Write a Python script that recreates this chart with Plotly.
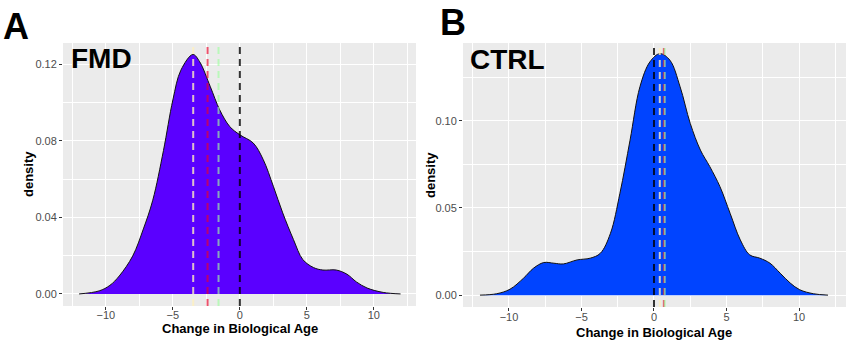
import plotly.graph_objects as go

# Density curves of the change in biological age (years)
fmd_x = [-12, -10.5, -9.7, -9, -8, -7.2, -6.5, -5.7, -5, -4.4, -3.5, -3, -2.2, -1.5,
         -0.75, 0, 1, 1.75, 2.5, 3.2, 4, 4.7, 5.5, 6.2, 7.2, 8, 8.7, 9.5, 10.7, 12]
fmd_density = [0.0, 0.0016, 0.0045, 0.0094, 0.0198, 0.034, 0.049, 0.075, 0.1014, 0.117,
               0.1252, 0.1214, 0.1083, 0.0962, 0.0875, 0.0832, 0.0789, 0.0702, 0.0563,
               0.0424, 0.0285, 0.018, 0.0138, 0.0125, 0.0125, 0.0103, 0.0063, 0.0031,
               0.0008, 0.0]

ctrl_x = [-12, -10.85, -9.93, -9.0, -8.3, -7.6, -6.9, -6.25, -5.3, -4.4, -3.7, -3.0,
          -2.35, -1.65, -0.97, -0.28, 0.41, 1.1, 1.8, 2.5, 3.2, 3.85, 4.55, 5.25, 5.95,
          6.6, 7.3, 8.0, 8.7, 9.4, 10.05, 11.0, 12]
ctrl_density = [0, 0.0008, 0.0034, 0.0097, 0.0155, 0.0187, 0.0183, 0.0179, 0.0202, 0.0212,
                0.024, 0.0355, 0.0584, 0.0889, 0.1195, 0.1338, 0.1385, 0.1347, 0.1195,
                0.0985, 0.0832, 0.0737, 0.0622, 0.0469, 0.0317, 0.0231, 0.0212, 0.0183,
                0.0126, 0.0069, 0.0031, 0.0008, 0]

# Reference lines (yellow, red, green, black) for each group
line_names = ["yellow", "red", "green", "black"]
fmd_lines = [-3.48, -2.41, -1.59, 0.0]
ctrl_lines = [0.4, 0.68, 0.74, 0.0]

x_ticks = [-10, -5, 0, 5, 10]
fmd_y_ticks = [0.0, 0.04, 0.08, 0.12]
ctrl_y_ticks = [0.0, 0.05, 0.10]

line_colors = {
    "yellow": "rgba(255,240,190,0.8)",
    "red": "rgba(235,0,40,0.65)",
    "green": "rgba(160,255,160,0.65)",
    "black": "rgba(0,0,0,0.8)",
}

FONT = "Liberation Sans, Arial, sans-serif"
PANEL_BG = "#EBEBEB"

fig = go.Figure()

fig.add_trace(go.Scatter(
    x=fmd_x, y=fmd_density, xaxis="x", yaxis="y",
    mode="lines", line=dict(color="#111111", width=1, shape="spline", smoothing=1.0),
    fill="tozeroy", fillcolor="#5A00FF", showlegend=False, hoverinfo="skip"))

fig.add_trace(go.Scatter(
    x=ctrl_x, y=ctrl_density, xaxis="x2", yaxis="y2",
    mode="lines", line=dict(color="#111111", width=1, shape="spline", smoothing=1.0),
    fill="tozeroy", fillcolor="#0044FF", showlegend=False, hoverinfo="skip"))

shapes = []
for xref, yref, values in (("x", "y domain", fmd_lines), ("x2", "y2 domain", ctrl_lines)):
    for name, xv in zip(line_names, values):
        shapes.append(dict(
            type="line", xref=xref, yref=yref, x0=xv, x1=xv, y0=0, y1=1,
            line=dict(color=line_colors[name], width=2, dash="7px,5px"),
            layer="above"))

axis_common = dict(
    showgrid=True, gridcolor="white", gridwidth=1.2, zeroline=False,
    ticks="outside", ticklen=3, tickwidth=1, tickcolor="#333333",
    tickfont=dict(family=FONT, size=11, color="#4D4D4D"),
    showline=False, fixedrange=True,
)

fig.update_layout(
    width=864, height=345,
    margin=dict(l=0, r=0, t=0, b=0),
    paper_bgcolor="white", plot_bgcolor=PANEL_BG,
    shapes=shapes,
    xaxis=dict(domain=[63 / 864, 416 / 864], range=[-13.2, 13.15], tickvals=x_ticks,
               minor=dict(showgrid=True, gridcolor="white", gridwidth=0.6, dtick=2.5,
                          tick0=-12.5, ticks=""),
               ticklabelstandoff=-4, anchor="y", **axis_common),
    yaxis=dict(domain=[1 - 306 / 345, 1 - 43 / 345], range=[-0.0063, 0.1312],
               tickvals=fmd_y_ticks, tickformat=".2f",
               minor=dict(showgrid=True, gridcolor="white", gridwidth=0.6, dtick=0.02,
                          tick0=0.0, ticks=""),
               anchor="x", **axis_common),
    xaxis2=dict(domain=[463 / 864, 846 / 864], range=[-13.17, 13.24], tickvals=x_ticks,
                minor=dict(showgrid=True, gridcolor="white", gridwidth=0.6, dtick=2.5,
                           tick0=-12.5, ticks=""),
                ticklabelstandoff=-3, anchor="y2", **axis_common),
    yaxis2=dict(domain=[1 - 307 / 345, 1 - 43 / 345], range=[-0.0068, 0.1446],
                tickvals=ctrl_y_ticks, tickformat=".2f",
                minor=dict(showgrid=True, gridcolor="white", gridwidth=0.6, dtick=0.025,
                           tick0=0.0, ticks=""),
                anchor="x2", **axis_common),
)

def label(text, x, y, size, xanchor="center", yanchor="middle", angle=0):
    fig.add_annotation(
        text=text, x=x / 864, y=1 - y / 345, xref="paper", yref="paper",
        xanchor=xanchor, yanchor=yanchor, showarrow=False, textangle=angle,
        font=dict(family=FONT, size=size, color="black", weight="bold"))

# Panel letters and group names
label("A", 1, 26, 36, xanchor="left")
label("B", 438, 23, 36, xanchor="left")
label("FMD", 69, 58, 28, xanchor="left")
label("CTRL", 468, 59, 28, xanchor="left")

# Axis titles
label("Change in Biological Age", 240, 328, 13)
label("Change in Biological Age", 654, 332, 13)
label("density", 28, 174, 13, angle=-90)
label("density", 430, 175, 13, angle=-90)

fig.write_html("out.html")
